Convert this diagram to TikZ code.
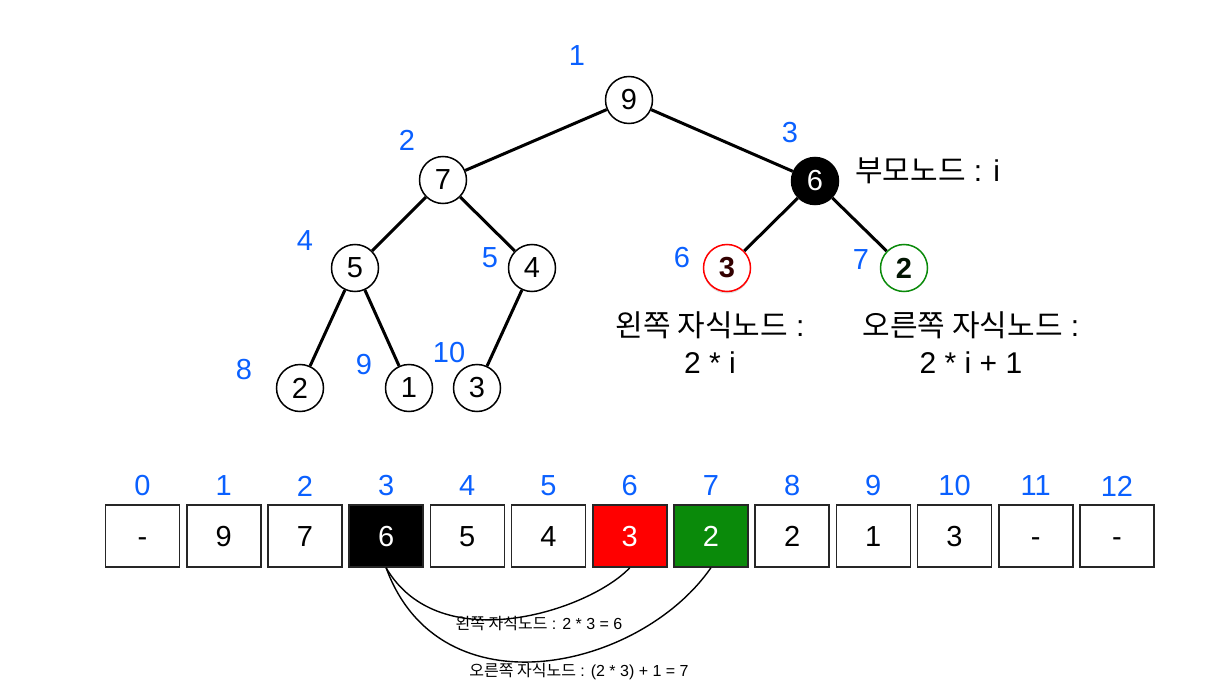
\documentclass[tikz,border=0pt]{standalone}
\usepackage{fontspec}
\setmainfont{Liberation Sans}
\newfontfamily\kr{Noto Sans CJK KR}
\usetikzlibrary{shadows}
\definecolor{idxblue}{RGB}{10,96,255}
\definecolor{kgreen}{RGB}{10,138,10}
\definecolor{kred}{RGB}{255,0,0}
\begin{document}
\begin{tikzpicture}[x=1pt,y=-1pt,
 tn/.style={circle,draw=black,line width=1.5pt,minimum size=47pt,inner sep=0pt,font=\fontsize{29}{31}\selectfont,fill=white},
 idx/.style={text=idxblue,font=\fontsize{29}{31}\selectfont,inner sep=0pt},
 edge/.style={line width=3pt},
 cell/.style={draw=black!85,line width=1.6pt,minimum width=74pt,minimum height=62pt,inner sep=0pt,text height=20.8pt,text depth=0pt,font=\fontsize{29}{31}\selectfont,fill=white},
 lbl/.style={font=\fontsize{30}{37}\selectfont,inner sep=0pt,align=center},
 small/.style={font=\fontsize{16}{18}\selectfont,inner sep=0pt},
 curve/.style={line width=1.4pt}]
\useasboundingbox (0,0) rectangle (1231,695);
% tree nodes
\node[tn] (n1) at (629,100) {9};
\node[tn] (n2) at (443,180) {7};
\node[tn,fill=black,text=white] (n3) at (815,181) {6};
\node[tn] (n4) at (355,268) {5};
\node[tn] (n5) at (532,268) {4};
\node[tn,draw=kred,drop shadow={opacity=0.25,shadow xshift=0pt,shadow yshift=-2pt},font=\fontsize{29}{31}\selectfont\bfseries,text=black!80!red] (n6) at (727,268) {3};
\node[tn,draw=kgreen,font=\fontsize{29}{31}\selectfont\bfseries,text=black!85!kgreen] (n7) at (904,268) {2};
\node[tn] (n8) at (300,388) {2};
\node[tn] (n9) at (409,388) {1};
\node[tn] (n10) at (477,388) {3};
% edges
\draw[edge] (n1) -- (n2);
\draw[edge] (n1) -- (n3);
\draw[edge] (n2) -- (n4);
\draw[edge] (n2) -- (n5);
\draw[edge] (n3) -- (n6);
\draw[edge] (n3) -- (n7);
\draw[edge] (n4) -- (n8);
\draw[edge] (n4) -- (n9);
\draw[edge] (n5) -- (n10);
% tree indices
\node[idx] (i1) at (577,56) {1};
\node[idx] (i2) at (407,140) {2};
\node[idx] (i3) at (790,133) {3};
\node[idx] (i4) at (305,241) {4};
\node[idx] (i5) at (490,258) {5};
\node[idx] (i6) at (682,258) {6};
\node[idx] (i7) at (861,260) {7};
\node[idx] (i8) at (244,370) {8};
\node[idx] (i9) at (364,365) {9};
\node[idx] (i10) at (449,353) {10};
% annotations
\node[lbl,anchor=west] (par) at (855,171) {{\kr 부모노드} : i};
\node[lbl] (lc) at (710,343) {{\kr 왼쪽 자식노드} :\\2 * i};
\node[lbl] (rc) at (971,343) {{\kr 오른쪽 자식노드} :\\2 * i + 1};
% array
\foreach \i/\v in {0/-,1/9,2/7,4/5,5/4,8/2,9/1,10/3,11/-,12/-}{
  \node[cell] (c\i) at ({142.5+81.2*\i},536) {\v};
}
\node[cell,fill=black,text=white] (c3) at ({142.5+81.2*3},536) {6};
\node[cell,fill=kred,text=white] (c6) at ({142.5+81.2*6},536) {3};
\node[cell,fill=kgreen,text=white] (c7) at ({142.5+81.2*7},536) {2};
\foreach \i in {0,...,12}{
  \node[idx] (a\i) at ({142.5+81.2*\i},486) {\i};
}
% curves
\draw[curve] (c3.south) .. controls (440,660) and (590,610) .. (c6.south);
\draw[curve] (c3.south) .. controls (440,715) and (640,670) .. (c7.south);
\node[small] (l1) at (539,624) {{\kr 왼쪽 자식노드} : 2 * 3 = 6};
\node[small] (l2) at (579,672) {{\kr 오른쪽 자식노드} : (2 * 3) + 1 = 7};
\end{tikzpicture}
\end{document}
